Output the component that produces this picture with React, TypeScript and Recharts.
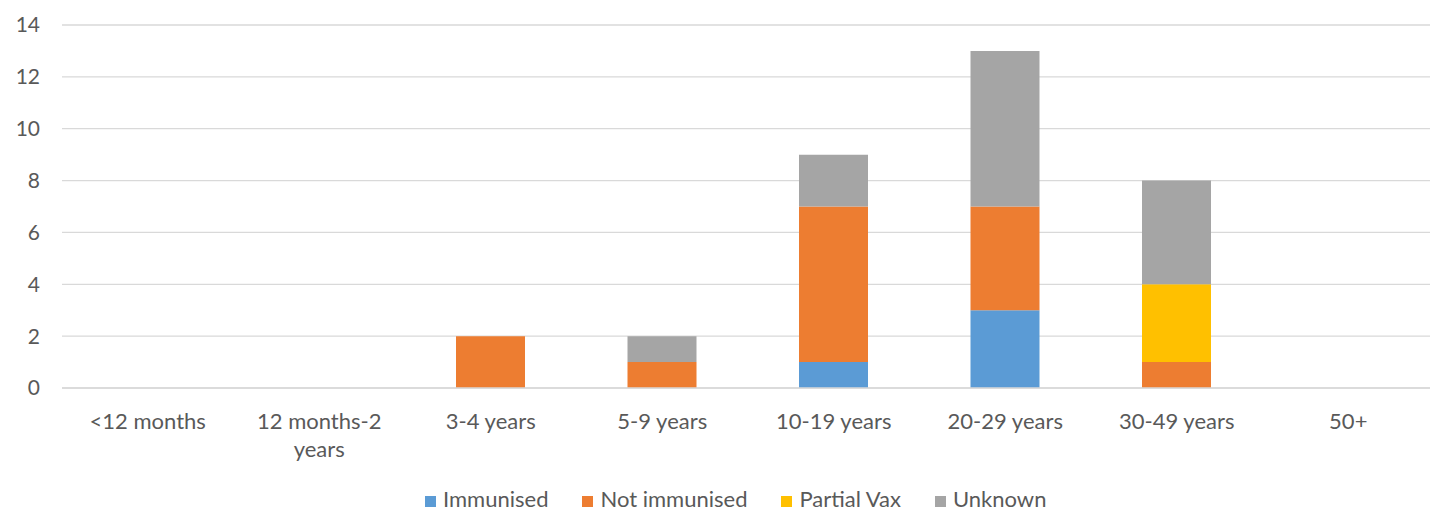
import React from "react";
import { BarChart, Bar, XAxis, YAxis, CartesianGrid, Legend } from "recharts";

const categories = [
  "<12 months",
  "12 months-2 years",
  "3-4 years",
  "5-9 years",
  "10-19 years",
  "20-29 years",
  "30-49 years",
  "50+",
];
const immunised = [0, 0, 0, 0, 1, 3, 0, 0];
const notImmunised = [0, 0, 2, 1, 6, 4, 1, 0];
const partialVax = [0, 0, 0, 0, 0, 0, 3, 0];
const unknown = [0, 0, 0, 1, 2, 6, 4, 0];
const yTicks = [0, 2, 4, 6, 8, 10, 12, 14];

const series = [
  { key: "immunised", name: "Immunised", color: "#5B9BD5" },
  { key: "notImmunised", name: "Not immunised", color: "#ED7D31" },
  { key: "partialVax", name: "Partial Vax", color: "#FFC000" },
  { key: "unknown", name: "Unknown", color: "#A5A5A5" },
];

const data = categories.map((label, i) => ({
  label,
  immunised: immunised[i],
  notImmunised: notImmunised[i],
  partialVax: partialVax[i],
  unknown: unknown[i],
}));

const FONT = "Lato, 'Open Sans', sans-serif";
const TEXT = "#595959";

// excel-style wrap: long labels break at the last space
function splitLabel(s: string): string[] {
  if (s.length <= 12) return [s];
  const i = s.lastIndexOf(" ");
  return [s.slice(0, i), s.slice(i + 1)];
}

function CategoryTick({ x, y, payload }: any) {
  const lines = splitLabel(payload.value);
  return (
    <text x={x} y={y + 39} textAnchor="middle" fill={TEXT} fontSize={22} fontFamily={FONT}>
      {lines.map((l, i) => (
        <tspan key={i} x={x} dy={i === 0 ? 0 : 28}>
          {l}
        </tspan>
      ))}
    </text>
  );
}

function LegendRow() {
  return (
    <div
      style={{
        display: "flex",
        alignItems: "center",
        gap: 34,
        height: 22,
        lineHeight: "22px",
        paddingLeft: 425,
        fontFamily: FONT,
        fontSize: 22,
        color: TEXT,
        whiteSpace: "nowrap",
      }}
    >
      {series.map((s) => (
        <div key={s.key} style={{ display: "flex", alignItems: "center", gap: 7 }}>
          <span
            style={{
              width: 11,
              height: 11,
              background: s.color,
              display: "inline-block",
              position: "relative",
              top: 2,
            }}
          />
          <span>{s.name}</span>
        </div>
      ))}
    </div>
  );
}

export default function App() {
  return (
    <div
      style={{
        position: "fixed",
        left: 0,
        top: 0,
        width: 1430,
        height: 511,
        overflow: "hidden",
        background: "#fff",
      }}
    >
      <BarChart
        width={1434}
        height={511}
        data={data}
        margin={{ top: 25, right: 0, left: 0, bottom: 0 }}
        barSize={69}
      >
        <CartesianGrid vertical={false} stroke="#D9D9D9" strokeWidth={1.3} />
        <XAxis
          dataKey="label"
          height={101}
          interval={0}
          tickLine={false}
          tickSize={0}
          axisLine={{ stroke: "#D9D9D9", strokeWidth: 1.3 }}
          tick={<CategoryTick />}
        />
        <YAxis
          width={62}
          domain={[0, 14]}
          ticks={yTicks}
          axisLine={false}
          tickLine={false}
          tickSize={0}
          tickMargin={22}
          tick={{ fill: TEXT, fontSize: 21, fontFamily: FONT }}
        />
        <Legend
          verticalAlign="bottom"
          height={22}
          content={<LegendRow />}
          wrapperStyle={{ top: 488, bottom: "auto", left: 0, width: 1430, height: 22 }}
        />
        {series.map((s) => (
          <Bar
            key={s.key}
            dataKey={s.key}
            name={s.name}
            stackId="a"
            fill={s.color}
            isAnimationActive={false}
          />
        ))}
      </BarChart>
    </div>
  );
}
